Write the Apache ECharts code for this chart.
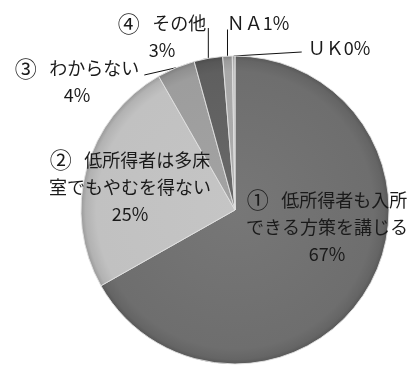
<!DOCTYPE html>
<html>
<head>
<meta charset="utf-8">
<script src="https://cdn.jsdelivr.net/npm/echarts@6/dist/echarts.min.js"></script>
<style>
  html, body { margin: 0; padding: 0; background: #ffffff; }
  #chart { width: 412px; height: 365px; }
</style>
</head>
<body>
<div id="chart"></div>
<script>
// Survey answers and their shares (%)
const categories = [
  '①\u2002\u2009低所得者も入所\nできる方策を講じる',
  '②\u2002\u2009低所得者は多床\n室でもやむを得ない',
  '③\u2002\u2009わからない',
  '④\u2002\u2009その他',
  'ＮＡ',
  'ＵＫ'
];
const shares = [67, 25, 4, 3, 1, 0];

// Grey fill per slice
const sliceColors = ['#6e6e6e', '#c1c1c1', '#9d9d9d', '#5f5f5f', '#a8a8a8', '#bcbcbc'];
// Short answers keep the percentage on the same line
const inlinePercent = [false, false, false, false, true, true];

// Pie geometry
const CX = 235, CY = 210, R = 154;

// Label centres
const labelSpots = [[327, 227], [130, 187], [77, 82], [162, 37], [258, 23], [339, 48]];

const FONT = '"Noto Sans CJK JP", "Noto Sans", sans-serif';

function shade(hex, f) {
  const n = parseInt(hex.slice(1), 16);
  const ch = [(n >> 16) & 255, (n >> 8) & 255, n & 255].map(function (c) {
    const v = f >= 0 ? c + (255 - c) * f : c * (1 + f);
    return Math.max(0, Math.min(255, Math.round(v)));
  });
  return 'rgb(' + ch.join(',') + ')';
}

function bevelFill(hex) {
  return {
    type: 'radial', x: CX, y: CY, r: R, global: true,
    colorStops: [
      { offset: 0, color: shade(hex, 0.06) },
      { offset: 0.9, color: hex },
      { offset: 0.97, color: shade(hex, -0.08) },
      { offset: 1, color: shade(hex, -0.2) }
    ]
  };
}

// Leader line end, taken from the label box
function leaderEnd(i, start, spot, w, h) {
  const left = spot[0] - w / 2, right = spot[0] + w / 2, top = spot[1] - h / 2;
  if (i === 2) return [right + 5, top + 20];
  if (i === 3) return [start[0], top + 18];
  if (i === 4) return [start[0], top + 20];
  if (i === 5) return [left - 6, spot[1] + 4];
  return null;
}

// Circled answer numbers get a slightly larger glyph
function richName(name) {
  const first = name.charAt(0);
  if (first >= '\u2460' && first <= '\u2473') {
    return '{num|' + first + '}' + name.slice(1);
  }
  return name;
}

const seriesData = categories.map(function (name, i) {
  const outside = i >= 2;
  return {
    name: name,
    value: shares[i],
    itemStyle: { color: bevelFill(sliceColors[i]) },
    label: { position: outside ? 'outside' : 'inside' },
    labelLine: { show: outside }
  };
});

const chart = echarts.init(document.getElementById('chart'), null, { renderer: 'canvas' });
chart.setOption({
  animation: false,
  backgroundColor: '#ffffff',
  series: [{
    type: 'pie',
    center: [CX, CY],
    radius: [0, R],
    startAngle: 90,
    clockwise: true,
    minAngle: 1,
    avoidLabelOverlap: false,
    silent: true,
    itemStyle: {
      borderColor: 'rgba(225,225,225,0.9)',
      borderWidth: 1
    },
    label: {
      show: true,
      color: '#1a1a1a',
      fontFamily: FONT,
      fontSize: 18,
      lineHeight: 27,
      align: 'center',
      rich: {
        num: { fontFamily: FONT, fontSize: 22, lineHeight: 27, color: '#1a1a1a' }
      },
      formatter: function (p) {
        const pct = Math.round(p.percent) + '%';
        const nm = richName(p.name);
        return inlinePercent[p.dataIndex] ? nm + pct : nm + '\n' + pct;
      }
    },
    labelLine: {
      show: true,
      smooth: false,
      lineStyle: { color: '#111111', width: 1 }
    },
    labelLayout: function (p) {
      const spot = labelSpots[p.dataIndex];
      const out = { x: spot[0], y: spot[1], align: 'center', verticalAlign: 'middle' };
      const pts = p.labelLinePoints;
      if (pts && pts.length) {
        const end = leaderEnd(p.dataIndex, pts[0], spot, p.labelRect.width, p.labelRect.height);
        if (end) out.labelLinePoints = [pts[0], end];
      }
      return out;
    },
    data: seriesData
  }]
});
</script>
</body>
</html>
